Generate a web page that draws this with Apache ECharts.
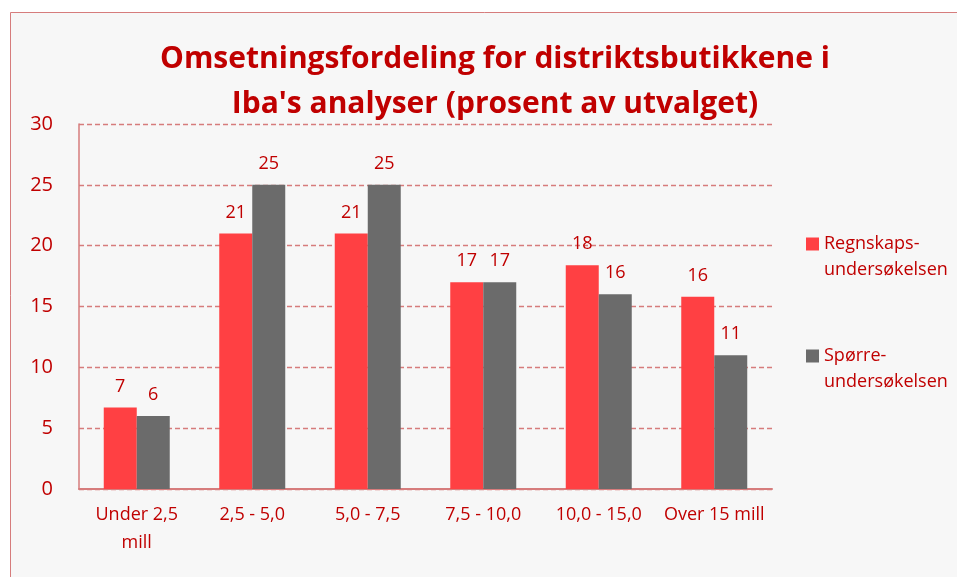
<!DOCTYPE html>
<html>
<head>
<meta charset="utf-8">
<script src="https://cdn.jsdelivr.net/npm/echarts@6/dist/echarts.min.js"></script>
<style>
  html, body { margin: 0; padding: 0; background: #ffffff; }
  #chart { width: 957px; height: 577px; }
</style>
</head>
<body>
<div id="chart"></div>
<script>
const categories = ['Under 2,5\nmill', '2,5 - 5,0', '5,0 - 7,5', '7,5 - 10,0', '10,0 - 15,0', 'Over 15 mill'];
const regnskapValues = [6.7, 21, 21, 17, 18.4, 15.8];
const sporreValues = [6, 25, 25, 17, 16, 11];
const yTicks = [0, 5, 10, 15, 20, 25, 30];

const darkRed = '#c00000';
const axisColor = '#d67c7c';
const fontFamily = '"Open Sans", Lato, sans-serif';

const chart = echarts.init(document.getElementById('chart'));

const labelOpt = {
  show: true,
  position: 'top',
  distance: 12,
  color: darkRed,
  fontSize: 18,
  fontFamily: fontFamily,
  formatter: p => Math.round(p.value)
};

chart.setOption({
  backgroundColor: '#ffffff',
  animation: false,
  graphic: [{
    type: 'rect',
    z: -10,
    silent: true,
    shape: { x: 10.5, y: 12.5, width: 960, height: 600 },
    style: { fill: '#f7f7f7', stroke: axisColor, lineWidth: 1 }
  }],
  title: {
    text: 'Omsetningsfordeling for distriktsbutikkene i\nIba\'s analyser (prosent av utvalget)',
    left: 490,
    top: 32,
    textAlign: 'center',
    textStyle: {
      color: darkRed,
      fontSize: 30,
      fontWeight: 'bold',
      lineHeight: 45,
      fontFamily: fontFamily
    }
  },
  legend: {
    orient: 'vertical',
    left: 801,
    top: 200,
    itemWidth: 13,
    itemHeight: 13,
    itemGap: 34,
    icon: 'rect',
    // leading blank line puts the icon level with the first text line
    formatter: name => '\n' + name,
    textStyle: {
      color: darkRed,
      fontSize: 18,
      lineHeight: 26,
      fontFamily: fontFamily
    },
    data: ['Regnskaps-\nundersøkelsen', 'Spørre-\nundersøkelsen']
  },
  grid: { left: 79, right: 185, top: 124, bottom: 88, containLabel: false },
  xAxis: {
    type: 'category',
    data: categories,
    axisLine: { lineStyle: { color: axisColor, width: 2 } },
    axisTick: { show: false },
    axisLabel: {
      color: darkRed,
      fontSize: 18,
      lineHeight: 28,
      margin: 12,
      fontFamily: fontFamily,
      interval: 0
    }
  },
  yAxis: {
    type: 'value',
    min: yTicks[0],
    max: yTicks[yTicks.length - 1],
    interval: 5,
    axisLine: { show: true, lineStyle: { color: axisColor, width: 1.5 } },
    axisTick: { show: false },
    axisLabel: { color: darkRed, fontSize: 20, margin: 26, fontFamily: fontFamily },
    splitLine: { lineStyle: { color: axisColor, type: [5, 3], width: 1.3 } }
  },
  series: [
    {
      name: 'Regnskaps-\nundersøkelsen',
      type: 'bar',
      data: regnskapValues,
      barWidth: 33,
      barGap: '0%',
      itemStyle: { color: '#ff4043' },
      label: labelOpt
    },
    {
      name: 'Spørre-\nundersøkelsen',
      type: 'bar',
      data: sporreValues,
      barWidth: 33,
      itemStyle: { color: '#6b6b6b' },
      label: labelOpt
    }
  ]
});
</script>
</body>
</html>
